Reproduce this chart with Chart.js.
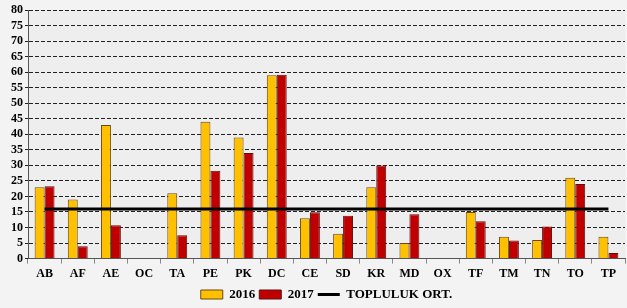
<!DOCTYPE html>
<html>
<head>
<meta charset="utf-8">
<script src="https://cdn.jsdelivr.net/npm/chart.js@4"></script>
<style>
  html, body { margin: 0; padding: 0; background: #f3f3f3; }
  #wrap { width: 627px; height: 308px; }
</style>
</head>
<body>
<div id="wrap"><canvas id="grafik"></canvas></div>
<script>
const kategoriler = ["AB", "AF", "AE", "OC", "TA", "PE", "PK", "DC", "CE", "SD", "KR", "MD", "OX", "TF", "TM", "TN", "TO", "TP"];
const yil2016 = [23, 19, 43, 0, 21, 44, 39, 59, 13, 8, 23, 5, 0, 15, 7, 6, 26, 7];
const yil2017 = [23.3, 4, 10.7, 0, 7.5, 28.3, 34, 59.2, 14.9, 13.8, 30, 14.3, 0, 12, 5.8, 10.3, 24, 1.8];
const toplulukOrt = 16;
const ortSerisi = kategoriler.map(() => toplulukOrt);

const yazi = { family: "'Liberation Serif', 'Times New Roman', serif", weight: "bold", size: 12 };

// plot area background
const alanArkaPlan = {
  id: "alanArkaPlan",
  beforeDraw(chart) {
    const { ctx, chartArea: a } = chart;
    ctx.save();
    ctx.fillStyle = "#eeeeee";
    ctx.fillRect(a.left, a.top, a.right - a.left, a.bottom - a.top);
    ctx.restore();
  },
};

new Chart(document.getElementById("grafik"), {
  type: "bar",
  data: {
    labels: kategoriler,
    datasets: [
      {
        label: "2016",
        data: yil2016,
        backgroundColor: "#ffc000",
        borderColor: "#6b4a10",
        borderWidth: 1,
        pointStyle: "rect",
        order: 2,
      },
      {
        label: "2017",
        data: yil2017,
        backgroundColor: "#c00000",
        borderColor: "#5a1010",
        borderWidth: 1,
        pointStyle: "rect",
        order: 2,
      },
      {
        type: "line",
        label: "TOPLULUK ORT.",
        data: ortSerisi,
        borderColor: "#000000",
        backgroundColor: "#000000",
        borderWidth: 3,
        pointRadius: 0,
        pointStyle: "line",
        order: 1,
      },
    ],
  },
  options: {
    responsive: true,
    maintainAspectRatio: false,
    animation: false,
    datasets: {
      bar: { categoryPercentage: 0.6, barPercentage: 1 },
    },
    layout: { padding: { top: 10, right: 2, left: 9, bottom: -3 } },
    plugins: {
      legend: {
        display: true,
        position: "bottom",
        fullSize: false,
        labels: {
          color: "#000",
          font: { ...yazi, size: 13 },
          usePointStyle: true,
          pointStyleWidth: 22,
          boxHeight: 9,
          padding: 4,
          sort: (a, b) => a.datasetIndex - b.datasetIndex,
        },
      },
      tooltip: { enabled: false },
    },
    scales: {
      x: {
        grid: {
          offset: true,
          drawOnChartArea: false,
          color: "#888",
          tickLength: 5,
        },
        border: { color: "#555", width: 1 },
        ticks: { color: "#000", font: yazi, maxRotation: 0, autoSkip: false, padding: 3 },
      },
      y: {
        min: 0,
        max: 80,
        ticks: { stepSize: 5, autoSkip: false, color: "#000", font: yazi, padding: 2 },
        grid: { color: "#222", lineWidth: 1, tickLength: 3 },
        border: { color: "#555", width: 1, dash: [4, 2] },
      },
    },
  },
  plugins: [alanArkaPlan],
});
</script>
</body>
</html>
